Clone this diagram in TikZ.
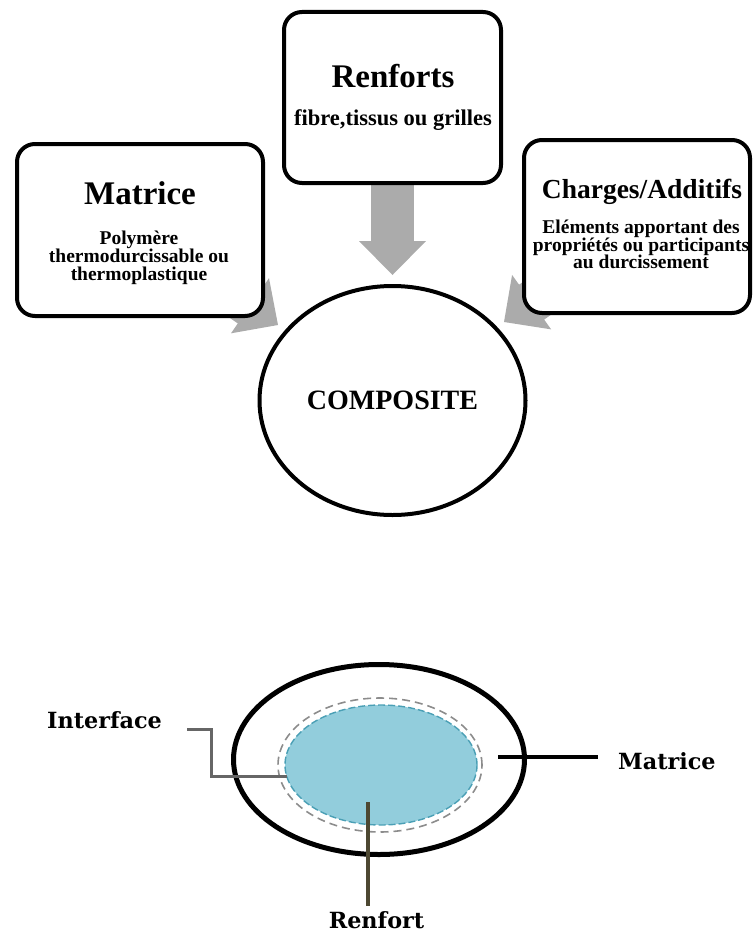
\documentclass[tikz,border=0pt]{standalone}
\usepackage{fontspec}
\setmainfont{Liberation Serif}
\newfontfamily\legendfont{DejaVu Serif}
\usetikzlibrary{calc,backgrounds,shapes.geometric}

\definecolor{arrowgrey}{HTML}{ABABAB}
\definecolor{fibreblue}{HTML}{92CDDC}
\definecolor{fibreedge}{HTML}{4A9FB5}
\definecolor{interfacegrey}{HTML}{8C8C8C}
\definecolor{leadergrey}{HTML}{666666}
\definecolor{fibreleader}{HTML}{4D4832}

\begin{document}
\begin{tikzpicture}[x=1pt,y=-1pt,
  box/.style={draw, line width=4pt, rounded corners=18pt, fill=white, inner sep=0pt},
  shaft/.style={line width=43pt, arrowgrey},
  title/.style={font=\bfseries\fontsize{33pt}{36pt}\selectfont, inner sep=0pt, anchor=base},
  body/.style={font=\bfseries\fontsize{19.5pt}{17.8pt}\selectfont, align=center, inner sep=0pt},
  legend/.style={font=\legendfont\bfseries\fontsize{22.3pt}{24pt}\selectfont, inner sep=0pt, anchor=base}]
\useasboundingbox (0,0) rectangle (753,934);

% ---------- top part: the three ingredients of a composite ----------
\node[box, minimum width=246pt, minimum height=172pt] (matbox) at (140,230) {};
\node[box, minimum width=217pt, minimum height=171pt] (renbox) at (392.5,97.5) {};
\node[box, minimum width=226pt, minimum height=173pt] (chabox) at (637,226.5) {};

\node[title] (mattitle) at (140,204) {Matrice};
\node[body] (matbody) at (139,257.5) {Polymère\\thermodurcissable ou\\thermoplastique};

\node[title] (rentitle) at (393,88) {Renforts};
\node[body, anchor=base, font=\bfseries\fontsize{22.5pt}{24pt}\selectfont] (renbody) at (393,125) {fibre,tissus ou grilles};

\node[title, font=\bfseries\fontsize{27.5pt}{30pt}\selectfont] (chatitle) at (642,198) {Charges/Additifs};
\node[body] (chabody) at (641,244.5) {Eléments apportant des\\propriétés ou participants\\au durcissement};

\node[draw, line width=4pt, ellipse, minimum width=266pt, minimum height=229pt, inner sep=0pt,
      font=\bfseries\fontsize{28pt}{30pt}\selectfont] (comp) at (392.5,400.5) {COMPOSITE};

% block arrows, drawn behind the boxes
\coordinate (tipM) at (278,325);
\coordinate (tipR) at (392.5,275);
\coordinate (tipC) at (504,322);
\begin{scope}[on background layer]
  \foreach \src/\tip in {matbox/tipM, renbox/tipR, chabox/tipC}{
    \coordinate (hb) at ($(\tip)!34pt!(\src.center)$);
    \draw[shaft] (\src.center) -- ($(\tip)!33pt!(\src.center)$);
    \fill[arrowgrey] ($(hb)!33.5pt!90:(\tip)$) -- (\tip) -- ($(hb)!33.5pt!-90:(\tip)$) -- cycle;
  }
\end{scope}

% ---------- bottom part: cross-section of a composite ----------
\node[draw, line width=5pt, ellipse, minimum width=291pt, minimum height=190pt, inner sep=0pt] (outer) at (379,759.5) {};
\node[draw=interfacegrey, line width=1.6pt, dash pattern=on 8pt off 5pt, ellipse,
      minimum width=204pt, minimum height=134pt, inner sep=0pt] (iface) at (380,765) {};
\node[fill=fibreblue, draw=fibreedge, line width=1.4pt, dash pattern=on 7pt off 3pt, ellipse,
      minimum width=192pt, minimum height=120pt, inner sep=0pt] (fibre) at (381,765) {};

\node[legend, anchor=base west] (ifacelbl) at (47,728) {Interface};
\node[legend, anchor=base west] (matlbl) at (618,769) {Matrice};
\node[legend] (renlbl) at (376.5,928) {Renfort};

\coordinate (ia) at (187,729);
\coordinate (ib) at (211,729);
\coordinate (ic) at (211,776);
\coordinate (id) at (287,776);
\draw[leadergrey, line width=3pt] (ia) -- (ib) -- (ic) -- (id);

\coordinate (ma) at (498,757);
\coordinate (mb) at (598,757);
\draw[black, line width=4pt] (ma) -- (mb);

\coordinate (ra) at (368,802);
\coordinate (rb) at (368,906);
\draw[fibreleader, line width=4.5pt] (ra) -- (rb);
\end{tikzpicture}
\end{document}
